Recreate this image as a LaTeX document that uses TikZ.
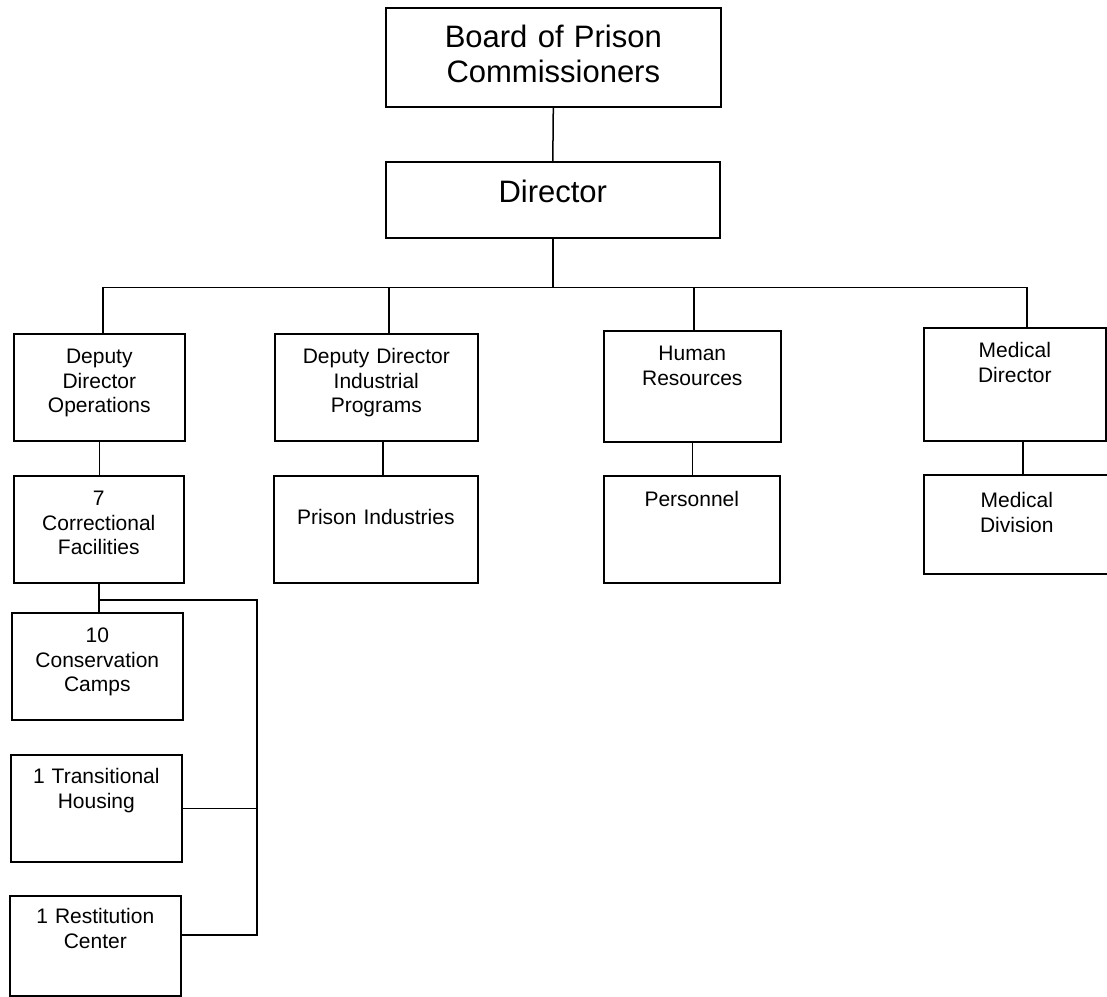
\documentclass[tikz,border=0pt]{standalone}
\usepackage{fontspec}
\setmainfont{Liberation Sans}
\usetikzlibrary{calc}

\tikzset{
  unit/.style={draw, line width=1.6pt, anchor=north west, align=center, inner sep=0pt,
    font=\fontsize{21}{24.5}\selectfont, text height=30pt, text depth=77pt},
  head/.style={unit, font=\fontsize{31}{35}\selectfont},
  link/.style={line width=1.5pt}
}

\begin{document}
\begin{tikzpicture}[x=1pt, y=-1pt]
    \clip (0,0) rectangle (1107,996);

    % Board and director
    \node[head, text width=335pt, text height=40pt, text depth=59pt] (board) at (385,7) {Board of Prison\\Commissioners};
    \node[head, text width=334pt, text height=41pt, text depth=35pt] (dir) at (385,161) {Director};

    % First row under the director
    \node[unit, text width=171pt] (ddo) at (13,333) {Deputy\\Director\\Operations};
    \node[unit, text width=203pt] (ddip) at (274,333) {Deputy Director\\Industrial\\Programs};
    \node[unit, text width=177pt, text depth=81pt] (hr) at (603,330) {Human\\Resources};
    \node[unit, text width=182pt, text depth=83pt] (md) at (923,327) {Medical\\Director};

    % Second row
    \node[unit, text width=170pt] (cf) at (13,475) {7\\Correctional\\Facilities};
    \node[unit, text width=204pt, text height=49pt, text depth=58pt] (pi) at (273,475) {Prison Industries};
    \node[unit, text width=176pt, text height=31pt, text depth=76pt] (pers) at (603,475) {Personnel};
    \node[unit, text width=186pt, text height=33pt, text depth=66pt] (mdiv) at (923,474) {Medical\\Division};

    % Units under the correctional facilities
    \node[unit, text width=171pt] (cc) at (11,612) {10\\Conservation\\Camps};
    \node[unit, text width=171pt, text height=29pt, text depth=78pt] (th) at (10,754) {1 Transitional\\Housing};
    \node[unit, text width=171pt, text height=28pt, text depth=72pt] (rc) at (9,895) {1 Restitution\\Center};

    % Connector points
    \coordinate (bus) at ($(dir.south)+(0,49)$);
    \coordinate (ddo-top) at ([xshift=3.5pt]ddo.north);
    \coordinate (ddip-top) at ([xshift=12.5pt]ddip.north);
    \coordinate (hr-top) at ([xshift=1.5pt]hr.north);
    \coordinate (md-top) at ([xshift=12pt]md.north);
    \coordinate (ddip-low) at ([xshift=6.5pt]ddip.south);
    \coordinate (md-low) at ([xshift=8pt]md.south);
    \coordinate (rail) at (257,600);

    % Connect the boxes
    \draw[link] (board.south) -- (dir.north);
    \draw[link] (dir.south) -- (bus);
    \draw[link] (ddo-top) |- (bus) -| (md-top);
    \draw[link] (ddip-top) -- (ddip-top |- bus);
    \draw[link] (hr-top) -- (hr-top |- bus);
    \draw[link] (ddo.south) -- (ddo.south |- cf.north);
    \draw[link] (ddip-low) -- (ddip-low |- pi.north);
    \draw[link] (hr.south) -- (hr.south |- pers.north);
    \draw[link] (md-low) -- (md-low |- mdiv.north);
    \draw[link] (cf.south) -- (cf.south |- cc.north);
    \draw[link] (cf.south |- rail) -- (rail) |- ([yshift=11pt]rc.east);
    \draw[link] (th.east) -- (th.east -| rail);
\end{tikzpicture}
\end{document}
